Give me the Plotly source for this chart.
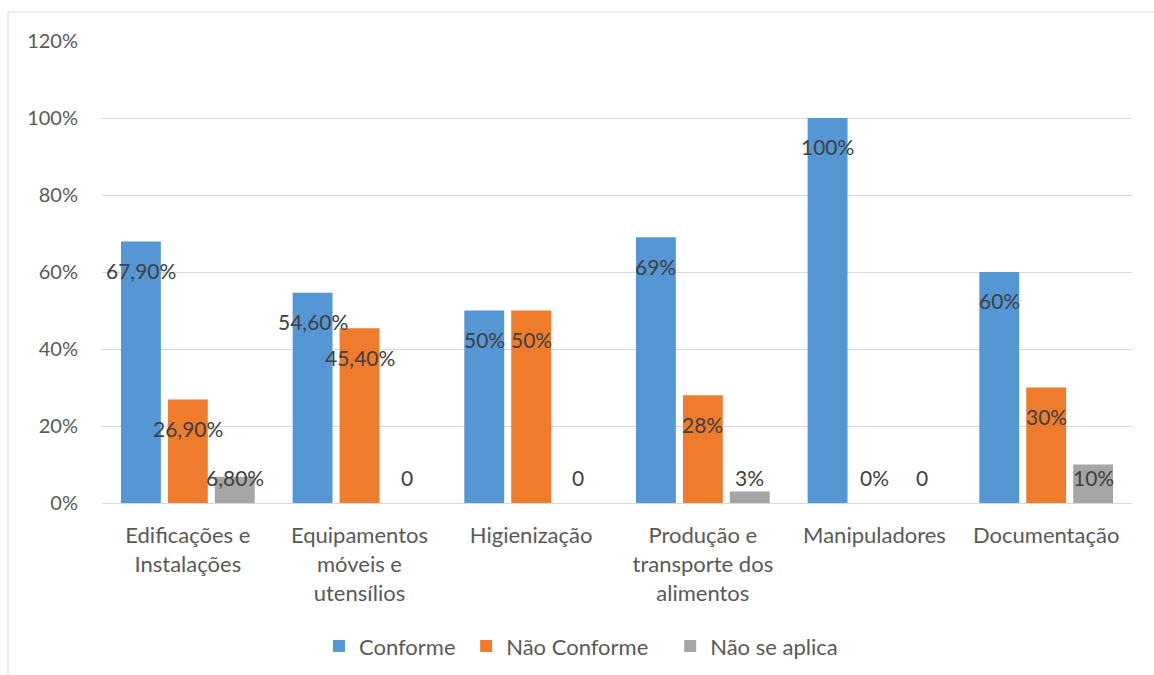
import plotly.graph_objects as go

categories = ["Edificações e<br>Instalações", "Equipamentos<br>móveis e<br>utensílios",
              "Higienização", "Produção e<br>transporte dos<br>alimentos",
              "Manipuladores", "Documentação"]
conforme = [0.679, 0.546, 0.50, 0.69, 1.00, 0.60]
nao_conforme = [0.269, 0.454, 0.50, 0.28, 0.0, 0.30]
nao_se_aplica = [0.068, 0.0, 0.0, 0.03, 0.0, 0.10]
labels_conforme = ["67,90%", "54,60%", "50%", "69%", "100%", "60%"]
labels_nao_conforme = ["26,90%", "45,40%", "50%", "28%", "0%", "30%"]
labels_nao_se_aplica = ["6,80%", "0", "0", "3%", "0", "10%"]
series_names = ["Conforme", "Não Conforme", "Não se aplica"]

NB = "\u00a0"
legend_pad = [NB * 1, NB * 3, ""]
colors = ["#5597d5", "#ef7b2c", "#a5a5a5"]
series = list(zip(series_names, [conforme, nao_conforme, nao_se_aplica],
                  [labels_conforme, labels_nao_conforme, labels_nao_se_aplica], colors, legend_pad))

FONT = "Lato"
TXT = "#595959"
fig = go.Figure()
for name, vals, labs, col, pad in series:
    fig.add_trace(go.Bar(x=categories, y=vals, name=name + pad,
                         marker=dict(color=col, line=dict(width=0))))

slot_px = 47
annotations = []
for j, (name, vals, labs, col, pad) in enumerate(series):
    for c, v, t in zip(categories, vals, labs):
        annotations.append(dict(x=c, y=max(v - 0.075, 0.065), xref="x", yref="y", text=t,
                                showarrow=False, xshift=(j - 1) * slot_px,
                                font=dict(family=FONT, size=21, color="#404040")))

fig.update_layout(
    width=1154, height=675,
    margin=dict(l=102, r=22, t=41, b=172, autoexpand=False),
    paper_bgcolor="white", plot_bgcolor="white",
    barmode="group", bargap=0.18, bargroupgap=0.15,
    font=dict(family=FONT, size=22, color=TXT),
    annotations=annotations,
    legend=dict(orientation="h", x=0.465, xanchor="center", y=-0.31, yanchor="middle",
                font=dict(family=FONT, size=22, color=TXT), itemwidth=30,
                traceorder="normal"),
    yaxis=dict(range=[0, 1.2], dtick=0.2, tickformat=".0%", showgrid=True,
               gridcolor="#d9d9d9", gridwidth=1, zeroline=False, showline=False,
               ticklabelstandoff=23, tickfont=dict(family=FONT, size=20, color=TXT)),
    xaxis=dict(showline=True, linecolor="#d9d9d9", linewidth=1, ticks="",
               ticklabelstandoff=13, tickfont=dict(family=FONT, size=22, color=TXT)),
    shapes=[
        dict(type="rect", xref="paper", yref="paper",
             x0=(8 - 102) / 1030, x1=(1170 - 102) / 1030,
             y0=(503 - 690) / 462, y1=1 + (41 - 12) / 462,
             line=dict(color="#d9d9d9", width=1), layer="below"),
    ],
)
fig.write_html("out.html")
